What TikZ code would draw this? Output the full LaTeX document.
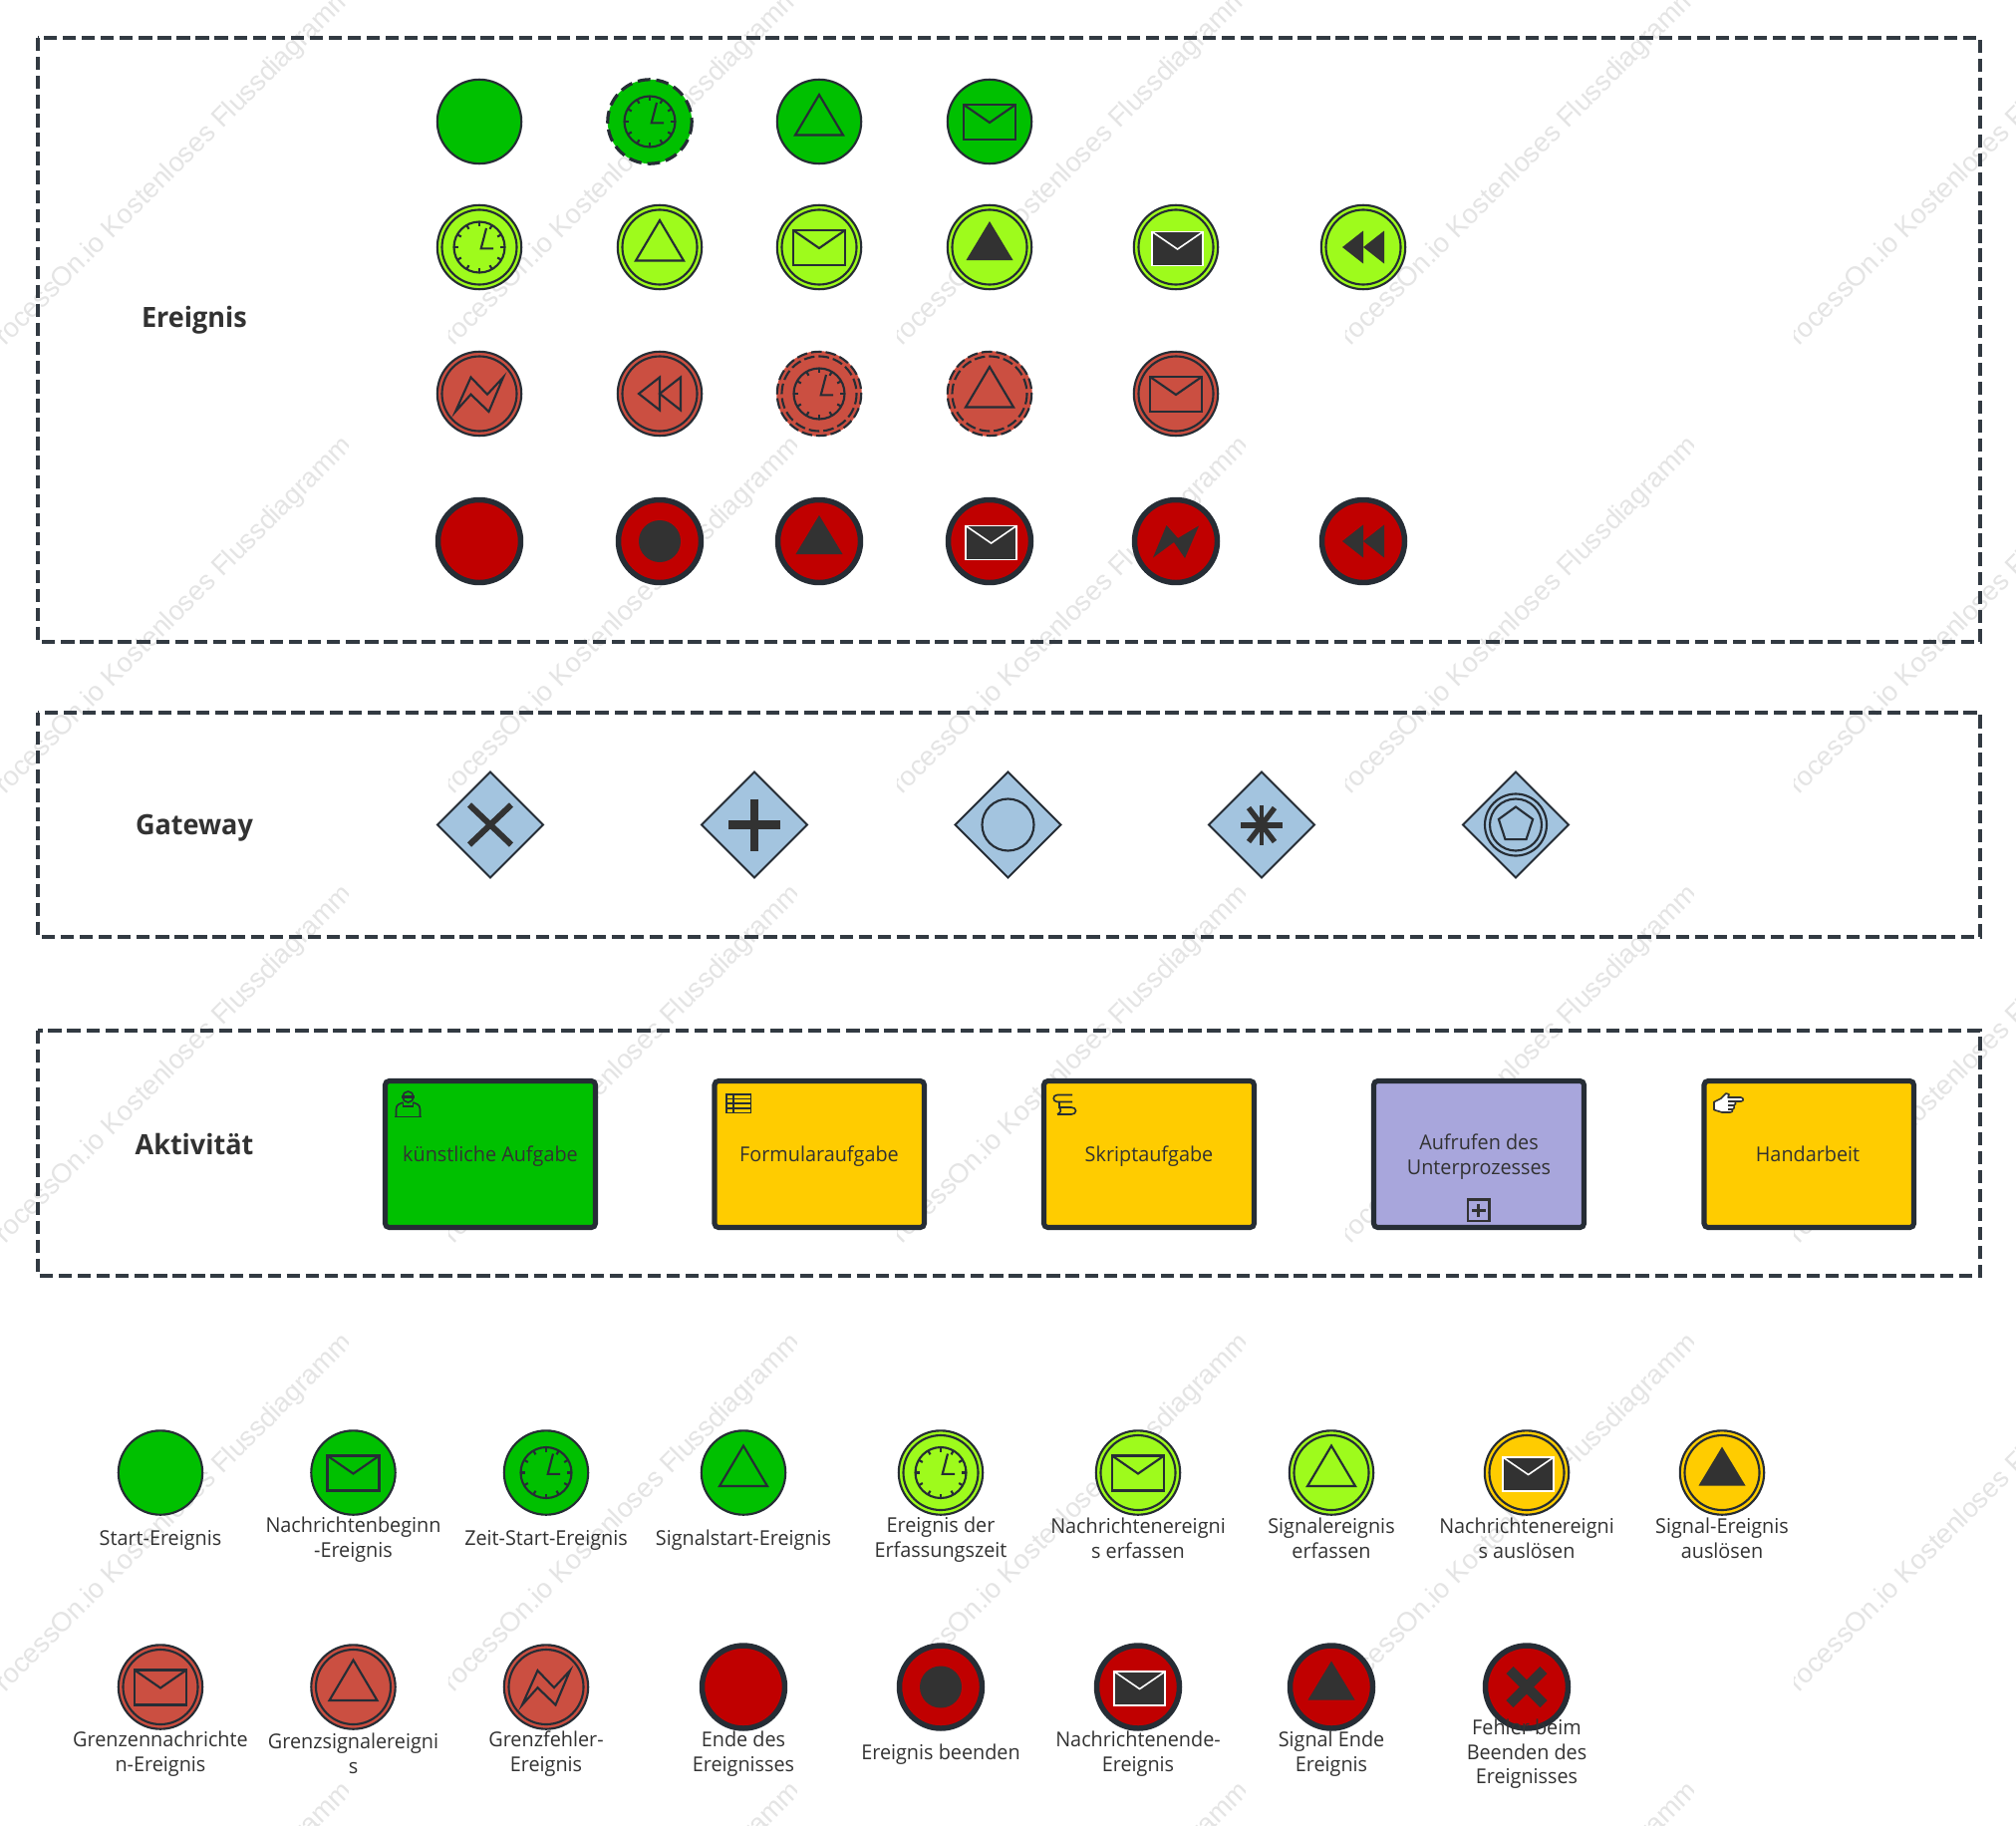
\documentclass[tikz,border=0pt]{standalone}
\usepackage{fontspec}
\setmainfont[FakeStretch=0.965]{Open Sans}
\newfontfamily\wmfont{Liberation Sans}
\definecolor{ink}{HTML}{262D35}
\definecolor{txt}{HTML}{323232}
\definecolor{frameC}{HTML}{323A42}
\definecolor{startG}{HTML}{00C000}
\definecolor{limeC}{HTML}{9EFB1C}
\definecolor{brickC}{HTML}{CB4F41}
\definecolor{endR}{HTML}{C00000}
\definecolor{goldC}{HTML}{FFCC00}
\definecolor{gateC}{HTML}{A3C4DF}
\definecolor{lilacC}{HTML}{A8A6DC}
\definecolor{wmC}{HTML}{E4E4E4}
\tikzset{
  frameBox/.style={draw=frameC,line width=2.4pt,dash pattern=on 10pt off 4.3pt},
  lne/.style={draw=ink,line width=1.6pt},
  thin icon/.style={draw=ink,line width=1.6pt,line join=miter},
  solid icon/.style={fill=txt},
  gateBox/.style={draw=ink,line width=1.4pt,fill=gateC,line join=miter},
  taskBox/.style={draw=ink,line width=3.8pt,rounded corners=3pt},
  lbl/.style={text=txt,font=\fontsize{15.4}{18.6}\selectfont,align=center,inner sep=0pt},
  head/.style={text=txt,font=\fontsize{21}{25}\selectfont\bfseries,inner sep=0pt},
  wm/.style={text=wmC,font=\wmfont\fontsize{20.4}{24}\selectfont,inner sep=0pt},
}
% event rims
\newcommand{\evThin}[4]{\begin{scope}[shift={(#1,#2)}]\draw[lne,fill=#3] (0,0) circle[radius=42.2];#4\end{scope}}
\newcommand{\evDash}[4]{\begin{scope}[shift={(#1,#2)}]\fill[#3] (0,0) circle[radius=42.2];\draw[lne,line width=2.4pt,dash pattern=on 9.5pt off 4.5pt] (0,0) circle[radius=42.2];#4\end{scope}}
\newcommand{\evDbl}[4]{\begin{scope}[shift={(#1,#2)}]\draw[lne,fill=#3] (0,0) circle[radius=42.2];\draw[lne] (0,0) circle[radius=37.5];#4\end{scope}}
\newcommand{\evDblDash}[4]{\begin{scope}[shift={(#1,#2)}]\fill[#3] (0,0) circle[radius=42.8];\draw[lne,dash pattern=on 8pt off 3pt] (0,0) circle[radius=42.2];\draw[lne,dash pattern=on 8pt off 3pt] (0,0) circle[radius=37.5];#4\end{scope}}
\newcommand{\evEnd}[4]{\begin{scope}[shift={(#1,#2)}]\draw[draw=ink,line width=4.1pt,fill=#3] (0,0) circle[radius=41.5];#4\end{scope}}
% event icons
\newcommand{\icTriO}{\draw[thin icon] (0,-27) -- (24,13.5) -- (-24,13.5) -- cycle;}
\newcommand{\icEnvO}{\draw[thin icon] (-26,-17) rectangle (26,18);\draw[thin icon] (-26,-17) -- (0,1) -- (26,-17);}
\newcommand{\icClock}{\draw[thin icon] (0,0) circle[radius=25.5];\foreach \a in {0,30,...,330}{\draw[thin icon] (\a:25.5) -- (\a:21);}\draw[thin icon] (7,-19) -- (1.7,1.4) -- (14,1.4);}
\newcommand{\icBoltO}{\draw[thin icon] (-24,18) -- (-8.5,-16.5) -- (8,0.7) -- (24,-16.5) -- (9.5,18) -- (-8.5,0.7) -- cycle;}
\newcommand{\icRewO}{\draw[thin icon] (-21,0) -- (0,-16.5) -- (0,16.5) -- cycle;\draw[thin icon] (0,0) -- (21,-16.5) -- (21,16.5) -- cycle;}
\newcommand{\icTriF}{\fill[solid icon] (0,-26) -- (23.5,13) -- (-23.5,13) -- cycle;}
\newcommand{\icEnvF}{\begin{scope}[xshift=1.2pt]\draw[draw=white,line width=1.2pt,fill=txt] (-25.5,-15.5) rectangle (25.5,18.5);\draw[draw=white,line width=1.2pt] (-25.5,-15.5) -- (0,2) -- (25.5,-15.5);\end{scope}}
\newcommand{\icBoltF}{\fill[solid icon] (-23,16.5) -- (-9.5,-16) -- (2,-3) -- (23,-15.5) -- (9,17) -- (-2,1) -- cycle;}
\newcommand{\icRewF}{\fill[solid icon] (-21,0) -- (0,-16.5) -- (0,16.5) -- cycle;\fill[solid icon] (0,0) -- (21,-16.5) -- (21,16.5) -- cycle;}
\newcommand{\icDot}{\fill[solid icon] (0,0) circle[radius=21];}
\newcommand{\icXF}{\draw[draw=txt,line width=7.5pt] (-17,-17) -- (17,17);\draw[draw=txt,line width=7.5pt] (-17,17) -- (17,-17);}
\newcommand{\gate}[3]{\begin{scope}[shift={(#1,#2)}]\draw[gateBox] (0,-53) -- (53,0) -- (0,53) -- (-53,0) -- cycle;#3\end{scope}}
\begin{document}
\begin{tikzpicture}[x=.75pt,y=-.75pt]
\useasboundingbox (0,0) rectangle (2023,1831);
\fill[white] (0,0) rectangle (2023,1831);
% tiled background mark
\foreach \i in {0,...,4}{\foreach \j in {0,...,4}{
  \begin{scope}
    \clip ({450*\i},{450*\j-110}) rectangle ({450*\i+349},{450*\j+400});
    \node[wm,rotate=45,anchor=base west] (wm\i\j) at ({450*\i-8},{450*\j+361}) {ProcessOn.io Kostenloses Flussdiagramm};
  \end{scope}
}}
% frames
\draw[frameBox] (38,38) rectangle (1987,644);
\draw[frameBox] (38,715) rectangle (1987,940);
\draw[frameBox] (38,1034) rectangle (1987,1280);
\node[head] (hEreignis) at (195,321.5) {Ereignis};
\node[head] (hGateway) at (195,831) {Gateway};
\node[head] (hAktivitaet) at (195,1147.5) {Aktivität};
% row 1
\evThin{481}{122}{startG}{}
\evDash{652}{122}{startG}{\icClock}
\evThin{822}{122}{startG}{\icTriO}
\evThin{993}{122}{startG}{\icEnvO}
% row 2
\evDbl{481}{248}{limeC}{\icClock}
\evDbl{662}{248}{limeC}{\icTriO}
\evDbl{822}{248}{limeC}{\icEnvO}
\evDbl{993}{248}{limeC}{\icTriF}
\evDbl{1180}{248}{limeC}{\icEnvF}
\evDbl{1368}{248}{limeC}{\icRewF}
% row 3
\evDbl{481}{395}{brickC}{\icBoltO}
\evDbl{662}{395}{brickC}{\icRewO}
\evDblDash{822}{395}{brickC}{\icClock}
\evDblDash{993}{395}{brickC}{\icTriO}
\evDbl{1180}{395}{brickC}{\icEnvO}
% row 4
\evEnd{481}{543}{endR}{}
\evEnd{662}{543}{endR}{\icDot}
\evEnd{822}{543}{endR}{\icTriF}
\evEnd{993}{543}{endR}{\icEnvF}
\evEnd{1180}{543}{endR}{\icBoltF}
\evEnd{1368}{543}{endR}{\icRewF}
% gateways
\gate{492}{827.5}{\draw[draw=txt,line width=4.5pt] (-21,-20) -- (21,20);\draw[draw=txt,line width=4.5pt] (-21,20) -- (21,-20);}
\gate{757}{827.5}{\draw[draw=txt,line width=6.5pt] (-26,0) -- (26,0);\draw[draw=txt,line width=6.5pt] (0,-26) -- (0,26);}
\gate{1011.5}{827.5}{\draw[thin icon] (0,0) circle[radius=26];}
\gate{1266}{827.5}{\draw[draw=txt,line width=4.5pt] (-21,0) -- (21,0);\draw[draw=txt,line width=3.5pt] (0,-20) -- (0,20);\draw[draw=txt,line width=4pt] (-13,-17) -- (13,17);\draw[draw=txt,line width=4pt] (-13,17) -- (13,-17);}
\gate{1521}{827.5}{\draw[thin icon] (0,0) circle[radius=31];\draw[thin icon] (0,0) circle[radius=26];\draw[thin icon] (-90:18) -- (-18:18) -- (54:18) -- (126:18) -- (198:18) -- cycle;}
% tasks
\draw[taskBox,fill=startG] (386.5,1084.5) rectangle (597.5,1231.5);
\draw[taskBox,fill=goldC] (717,1084.5) rectangle (927.5,1231.5);
\draw[taskBox,fill=goldC] (1047.5,1084.5) rectangle (1258.5,1231.5);
\draw[taskBox,fill=lilacC] (1378.5,1084.5) rectangle (1589.5,1231.5);
\draw[taskBox,fill=goldC] (1710,1084.5) rectangle (1920.5,1231.5);
\node[lbl] (tKuenst) at (492,1160.5) {künstliche Aufgabe};
\node[lbl] (tForm) at (822,1160.5) {Formularaufgabe};
\node[lbl] (tSkript) at (1153,1160.5) {Skriptaufgabe};
\node[lbl] (tUnter) at (1484,1160.5) {Aufrufen des\\Unterprozesses};
\node[lbl] (tHand) at (1814,1158) {Handarbeit};
% task icons
\begin{scope}[shift={(409.5,1108)},draw=ink]
  \draw[line width=1.2pt] (-12,12) -- (-12,5) .. controls (-12,0) and (-8,-1) .. (-5,-2);
  \draw[line width=1.2pt] (5,-2) .. controls (8,-1) and (12,0) .. (12,5) -- (12,12);
  \draw[line width=1.2pt] (-13.5,12.5) -- (13.5,12.5);
  \draw[line width=1.2pt] (-5,-2) -- (-5,2) -- (5,2) -- (5,-2);
  \draw[line width=1.2pt] (0,-7.5) circle[radius=5.5];
  \draw[line width=2pt] (-6.5,-7.5) -- (6.5,-7.5);
\end{scope}
\begin{scope}[draw=ink,line width=1.2pt]
  \draw (729,1098) rectangle (753.5,1116.5);
  \draw (729,1102.6) -- (753.5,1102.6);
  \draw (729,1107.2) -- (753.5,1107.2);
  \draw (729,1111.9) -- (753.5,1111.9);
  \draw (736,1098) -- (736,1116.5);
\end{scope}
\begin{scope}[draw=ink,line width=1.2pt]
  \draw (1076,1098.5) -- (1061,1098.5) .. controls (1056,1098.5) and (1056,1105.5) .. (1061,1105.5) -- (1076,1105.5);
  \draw (1063,1105.5) -- (1063,1111);
  \draw (1062,1111) -- (1075,1111) .. controls (1081,1111) and (1081,1118) .. (1075,1118) -- (1061,1118);
  \draw (1063,1111) .. controls (1065,1114) and (1065,1116) .. (1061,1118);
\end{scope}
\begin{scope}[shift={(1715,1090)}]
  \draw[draw=txt,line width=1.2pt,fill=white,line join=round] (5,15.5) -- (12,12) -- (17,7) -- (20,8) -- (19,11) -- (32,11) .. controls (35,12) and (35,14.5) .. (32,15) -- (26,15) .. controls (27,17) and (27,18) .. (25,19) .. controls (26,21) and (25,22.5) .. (23.5,23) .. controls (24,25) and (23,26) .. (21,26) -- (13,26) -- (5,23.5) -- cycle;
  \draw[draw=txt,line width=1pt] (19,15) -- (26,15);
  \draw[draw=txt,line width=1pt] (19,19) -- (25,19);
  \draw[draw=txt,line width=1pt] (19,23) -- (23.5,23);
\end{scope}
\begin{scope}[draw=txt,line width=2.2pt]
  \draw (1473,1203.5) rectangle (1494.5,1225);
  \draw (1477,1214.2) -- (1490.5,1214.2);
  \draw (1483.7,1207.5) -- (1483.7,1221);
\end{scope}
% legend row 1
\evThin{161}{1477.5}{startG}{}
\evThin{354.5}{1477.5}{startG}{\icEnvO}
\evThin{548}{1477.5}{startG}{\icClock}
\evThin{746}{1477.5}{startG}{\icTriO}
\evDbl{944}{1477.5}{limeC}{\icClock}
\evDbl{1142}{1477.5}{limeC}{\icEnvO}
\evDbl{1336}{1477.5}{limeC}{\icTriO}
\evDbl{1532}{1477.5}{goldC}{\icEnvF}
\evDbl{1728}{1477.5}{goldC}{\icTriF}
\node[lbl] (a1) at (161,1545.3) {Start-Ereignis};
\node[lbl] (a2) at (354.5,1544.3) {Nachrichtenbeginn\\-Ereignis};
\node[lbl] (a3) at (548,1545.3) {Zeit-Start-Ereignis};
\node[lbl] (a4) at (746,1545.3) {Signalstart-Ereignis};
\node[lbl] (a5) at (944,1544.3) {Ereignis der\\Erfassungszeit};
\node[lbl] (a6) at (1142,1543) {Nachrichtenereigni\\s erfassen};
\node[lbl] (a7) at (1336,1543) {Signalereignis\\erfassen};
\node[lbl] (a8) at (1532,1543) {Nachrichtenereigni\\s auslösen};
\node[lbl] (a9) at (1728,1543) {Signal-Ereignis\\auslösen};
% legend row 2
\evDbl{161}{1692.5}{brickC}{\icEnvO}
\evDbl{354.5}{1692.5}{brickC}{\icTriO}
\evDbl{548}{1692.5}{brickC}{\icBoltO}
\evEnd{746}{1692.5}{endR}{}
\evEnd{944}{1692.5}{endR}{\icDot}
\evEnd{1142}{1692.5}{endR}{\icEnvF}
\evEnd{1336}{1692.5}{endR}{\icTriF}
\evEnd{1532}{1692.5}{endR}{\icXF}
\node[lbl] (b1) at (161,1759.3) {Grenzennachrichte\\n-Ereignis};
\node[lbl] (b2) at (354.5,1759.3) {Grenzsignalereigni\\s};
\node[lbl] (b3) at (548,1759.3) {Grenzfehler-\\Ereignis};
\node[lbl] (b4) at (746,1759.3) {Ende des\\Ereignisses};
\node[lbl] (b5) at (944,1760.3) {Ereignis beenden};
\node[lbl] (b6) at (1142,1759.3) {Nachrichtenende-\\Ereignis};
\node[lbl] (b7) at (1336,1759.3) {Signal Ende\\Ereignis};
\node[lbl] (b8) at (1532,1759.8) {Fehler beim\\Beenden des\\Ereignisses};
\end{tikzpicture}
\end{document}
